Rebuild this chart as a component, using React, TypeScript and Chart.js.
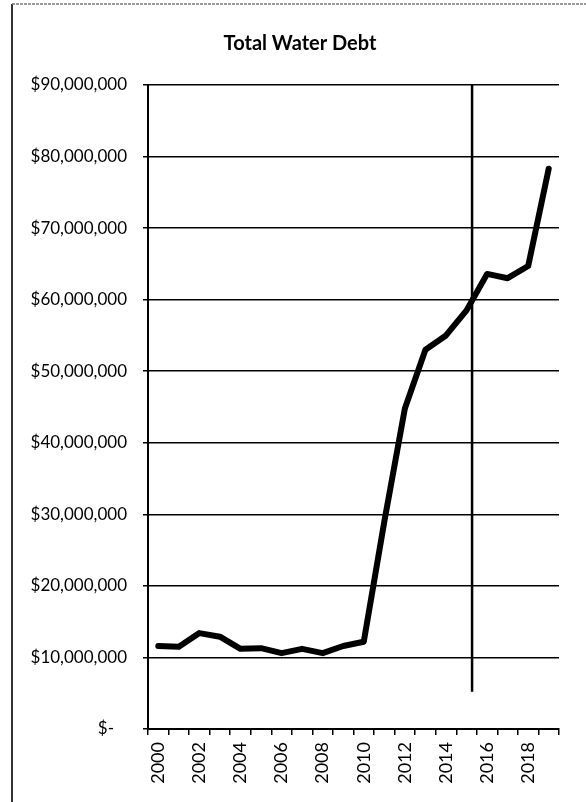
import React, { useEffect, useRef } from "react";
import { Chart, registerables } from "chart.js";

Chart.register(...registerables);

const years: string[] = [
  "2000", "2001", "2002", "2003", "2004", "2005", "2006", "2007", "2008", "2009",
  "2010", "2011", "2012", "2013", "2014", "2015", "2016", "2017", "2018", "2019",
];

const totalDebt: number[] = [
  11600000, 11500000, 13400000, 12900000, 11200000, 11300000, 10600000, 11200000,
  10600000, 11600000, 12200000, 29000000, 44800000, 53000000, 55000000, 58500000,
  63600000, 63000000, 64700000, 78300000,
];

const yMin = 0;
const yMax = 90000000;
const yStep = 10000000;

const markerYearIndex = 15.27; // position of vertical marker (between 2015 and 2016)
const markerBottomValue = 5200000;

const chartTitle = "Total Water Debt";

const frameTitleMarker = {
  id: "frameTitleMarker",
  afterDraw(chart: any) {
    const ctx = chart.ctx;
    const xs = chart.scales.x;
    const ys = chart.scales.y;
    const area = chart.chartArea;
    const i0 = Math.floor(markerYearIndex);
    const p0 = xs.getPixelForValue(i0);
    const p1 = xs.getPixelForValue(i0 + 1);
    const mx = p0 + (p1 - p0) * (markerYearIndex - i0);
    ctx.save();
    // vertical marker line
    ctx.strokeStyle = "#000";
    ctx.lineWidth = 2.5;
    ctx.beginPath();
    ctx.moveTo(mx, area.top);
    ctx.lineTo(mx, ys.getPixelForValue(markerBottomValue));
    ctx.stroke();
    // title, centred on the chart frame
    ctx.fillStyle = "#000";
    ctx.font = "bold 20px Lato";
    ctx.textAlign = "center";
    ctx.textBaseline = "middle";
    ctx.fillText(chartTitle, 300, 44);
    // outer frame
    ctx.strokeStyle = "#333";
    ctx.lineWidth = 2;
    ctx.beginPath();
    ctx.moveTo(12, 4);
    ctx.lineTo(12, chart.height);
    ctx.stroke();
    ctx.strokeStyle = "#777";
    ctx.lineWidth = 1.5;
    ctx.setLineDash([3, 1]);
    ctx.beginPath();
    ctx.moveTo(12, 4);
    ctx.lineTo(chart.width, 4);
    ctx.stroke();
    ctx.restore();
  },
};

export default function App() {
  const canvasRef = useRef<HTMLCanvasElement | null>(null);

  useEffect(() => {
    document.body.style.margin = "0";
    const canvas = canvasRef.current;
    if (!canvas) return;
    const chart = new Chart(canvas, {
      type: "line",
      data: {
        labels: years,
        datasets: [
          {
            label: chartTitle,
            data: totalDebt,
            borderColor: "#000",
            borderWidth: 6,
            pointRadius: 0,
            tension: 0,
            fill: false,
            borderCapStyle: "round",
            borderJoinStyle: "round",
          },
        ],
      },
      options: {
        animation: false,
        responsive: false,
        devicePixelRatio: 1,
        layout: { padding: { left: 14, right: 27, top: 85, bottom: 0 } },
        plugins: {
          legend: { display: false },
          tooltip: { enabled: false },
          title: { display: false },
        },
        scales: {
          x: {
            type: "category",
            offset: true,
            afterFit(scale: any) {
              scale.height = 73;
            },
            grid: {
              offset: true,
              drawOnChartArea: false,
              drawTicks: true,
              tickLength: 6,
              color: "#000",
              lineWidth: 1.5,
            },
            border: { display: true, color: "#000", width: 2 },
            ticks: {
              autoSkip: false,
              minRotation: 90,
              maxRotation: 90,
              padding: 7,
              color: "#000",
              font: { family: "Lato", size: 18 },
              callback: (_v: any, i: number) => (i % 2 === 0 ? years[i] : ""),
            },
          },
          y: {
            min: yMin,
            max: yMax,
            afterFit(scale: any) {
              scale.width = 134;
            },
            grid: {
              color: "#000",
              lineWidth: 1.5,
              drawTicks: true,
              tickLength: 5,
            },
            border: { display: true, color: "#000", width: 2 },
            ticks: {
              stepSize: yStep,
              padding: 16,
              color: "#000",
              font: { family: "Lato", size: 17 },
              callback: (v: any) =>
                Number(v) === 0 ? "$-   " : "$" + Number(v).toLocaleString("en-US"),
            },
          },
        },
      },
      plugins: [frameTitleMarker],
    });
    return () => chart.destroy();
  }, []);

  return (
    <div style={{ position: "absolute", left: 0, top: 0, width: 586, height: 802, background: "#fff" }}>
      <canvas ref={canvasRef} width={586} height={802} />
    </div>
  );
}
